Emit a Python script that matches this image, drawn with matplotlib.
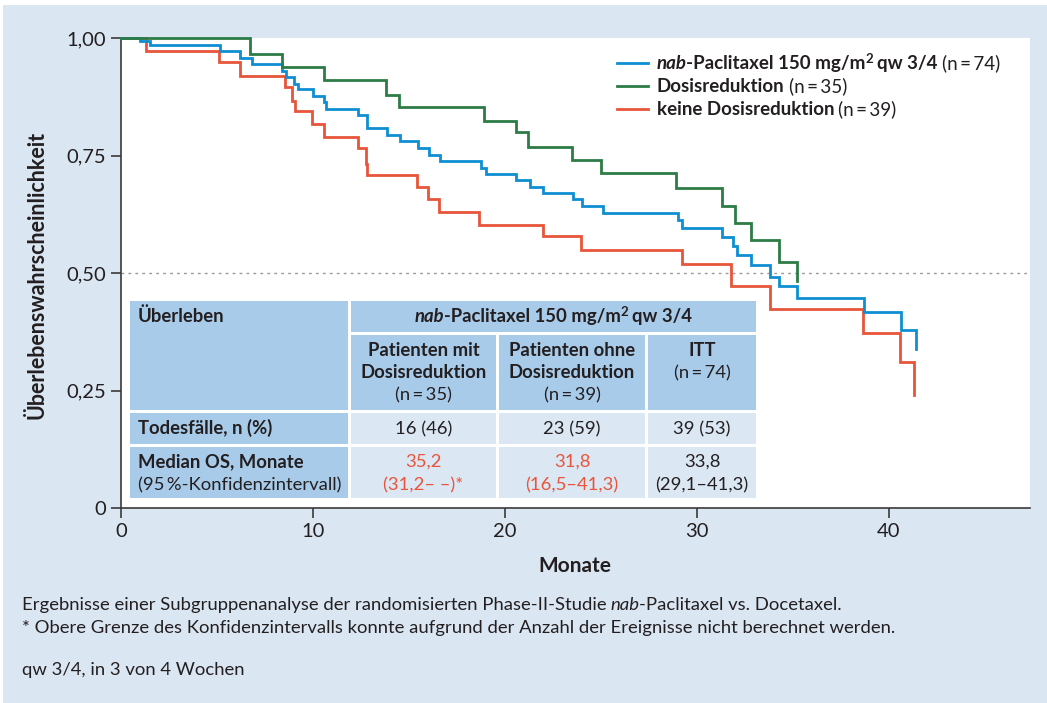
"""Kaplan-Meier OS: nab-Paclitaxel subgroups by dose reduction, with summary table."""

import matplotlib

matplotlib.use("Agg")
import matplotlib.pyplot as plt
from matplotlib.patches import Rectangle
from matplotlib.transforms import IdentityTransform


W, H, DPI = 1047, 703, 100

BG = "#dbe6f3"
HEAD = "#a9cbea"
CELL = "#dce7f4"
TEXT = "#231f20"
BLUE = "#0e8fd3"
GREEN = "#2d7b45"
RED = "#e8553a"

FONT = ["Lato", "DejaVu Sans"]
THIN = "\u2009"

# Kaplan-Meier steps (months, survival)
itt_t = [0, 1.0, 1.5, 5.15, 6.2, 6.8, 8.4, 8.6, 9.0, 9.2, 10.0, 10.6, 10.7,
         12.35, 12.8, 13.85, 14.55, 15.45, 16.05, 16.6, 18.75, 19.0, 20.6,
         21.3, 22.0, 23.55, 24.0, 25.1, 29.0, 29.2, 31.3, 31.9, 32.1, 32.8,
         33.8, 34.3, 35.2, 38.7, 40.65, 41.4]
itt_s = [1.0, 0.993, 0.986, 0.972, 0.958, 0.945, 0.930, 0.916, 0.902, 0.891,
         0.876, 0.864, 0.849, 0.836, 0.808, 0.794, 0.780, 0.766, 0.752, 0.738,
         0.724, 0.711, 0.698, 0.684, 0.671, 0.657, 0.642, 0.628, 0.613, 0.596,
         0.577, 0.558, 0.538, 0.517, 0.492, 0.472, 0.446, 0.416, 0.378, 0.338]

dr_t = [0, 6.7, 8.4, 10.6, 13.8, 14.5, 18.9, 20.6, 21.2, 23.5, 25.0, 28.9,
        31.3, 32.0, 32.8, 34.3, 35.2]
dr_s = [1.0, 0.967, 0.939, 0.911, 0.879, 0.854, 0.824, 0.799, 0.768, 0.741,
        0.712, 0.680, 0.643, 0.606, 0.570, 0.524, 0.483]

nodr_t = [0, 1.3, 5.1, 6.2, 8.55, 8.9, 9.05, 9.95, 10.6, 12.35, 12.75, 12.8,
          15.4, 16.0, 16.55, 18.65, 22.0, 23.95, 29.2, 31.8, 33.8, 38.65,
          40.6, 41.3]
nodr_s = [1.0, 0.972, 0.948, 0.919, 0.896, 0.866, 0.844, 0.817, 0.790, 0.766,
          0.732, 0.709, 0.684, 0.658, 0.630, 0.603, 0.578, 0.550, 0.519, 0.472,
          0.424, 0.372, 0.310, 0.241]

x_ticks = [0, 10, 20, 30, 40]
y_ticks = [0, 0.25, 0.5, 0.75, 1.0]
y_tick_labels = ["0", "0,25", "0,50", "0,75", "1,00"]

# table contents
group_names = [("Patienten mit", "Dosisreduktion"),
               ("Patienten ohne", "Dosisreduktion"),
               ("ITT",)]
group_n = [f"(n{THIN}={THIN}35)", f"(n{THIN}={THIN}39)", f"(n{THIN}={THIN}74)"]
deaths = ["16 (46)", "23 (59)", "39 (53)"]
median_os = ["35,2", "31,8", "33,8"]
median_ci = ["(31,2– –)*", "(16,5–41,3)", "(29,1–41,3)"]
median_colors = [RED, RED, TEXT]

captions = [
    [("Ergebnisse einer Subgruppenanalyse der randomisierten Phase-II-Studie", {}),
     ("nab", {"style": "italic", "gap": 4}),
     ("-Paclitaxel vs. Docetaxel.", {"gap": -1})],
    [("* Obere Grenze des Konfidenzintervalls konnte aufgrund der Anzahl der "
      "Ereignisse nicht berechnet werden.", {})],
    [("qw 3/4, in 3 von 4 Wochen", {})],
]


def fy(y):
    """Pixel row measured from the top -> pixel y from the bottom."""
    return H - y


def rich_text(fig, x, y, parts, ha="left", size=13.3, color=TEXT):
    """Place text pieces with mixed styles one after another on one baseline."""
    renderer = fig.canvas.get_renderer()
    placed = []
    cursor = 0.0
    for s, style in parts:
        style = dict(style)
        cursor += style.pop("gap", 0.0)
        rise = style.pop("rise", 0.0)
        t = fig.text(0, 0, s, transform=IdentityTransform(),
                     fontsize=style.pop("size", size),
                     color=style.pop("color", color),
                     family=FONT, va="baseline", ha="left", **style)
        w = t.get_window_extent(renderer).width
        placed.append((t, cursor, rise))
        cursor += w
    x0 = x - cursor / 2 if ha == "center" else x
    for t, off, rise in placed:
        t.set_position((x0 + off, fy(y) + rise))


def cell(fig, x0, y0, x1, y1, color, z=3):
    fig.patches.append(Rectangle((x0, fy(y1)), x1 - x0, y1 - y0,
                                 transform=IdentityTransform(),
                                 facecolor=color, edgecolor="none", zorder=z))


def main() -> None:
    fig = plt.figure(figsize=(W / DPI, H / DPI), dpi=DPI)
    fig.patch.set_facecolor("white")
    cell(fig, 3, 5, W + 2, H + 2, BG, z=-10)

    ax = fig.add_axes([121 / W, fy(508) / H, (1030 - 121) / W, (508 - 38) / H])
    ax.set_facecolor("white")
    for side in ("top", "right"):
        ax.spines[side].set_visible(False)
    for side in ("left", "bottom"):
        ax.spines[side].set_color("#3a3a3a")
        ax.spines[side].set_linewidth(1.2)

    ax.axhline(0.5, color="#9a9a9a", linestyle=(0, (2, 3)), linewidth=1.0)

    for t, s, c in [(nodr_t, nodr_s, RED), (itt_t, itt_s, BLUE), (dr_t, dr_s, GREEN)]:
        ax.step(t, s, where="post", color=c, linewidth=2.0, clip_on=False,
                solid_joinstyle="miter", zorder=4)

    ax.set_xlim(0, 47.35)
    ax.set_ylim(0, 1.0)
    ax.set_xticks(x_ticks)
    ax.set_yticks(y_ticks)
    ax.set_yticklabels(y_tick_labels)
    ax.tick_params(axis="both", direction="out", length=7, width=1.2,
                   color="#3a3a3a", labelsize=14.5, labelcolor=TEXT, pad=4)
    for lab in ax.get_xticklabels() + ax.get_yticklabels():
        lab.set_family(FONT)

    fig.text(575 / W, fy(566) / H, "Monate", ha="center", va="center",
             fontsize=15, fontweight="bold", family=FONT, color=TEXT)
    fig.text(37 / W, fy(275) / H, "Überlebenswahrscheinlichkeit", ha="center",
             va="center", rotation=90, fontsize=15.5, fontweight="bold",
             family=FONT, color=TEXT)

    # legend
    legend_rows = [
        (BLUE, [("nab", {"weight": "bold", "style": "italic"}),
                ("-Paclitaxel 150 mg/m", {"weight": "bold", "gap": -1}),
                ("2", {"weight": "bold", "size": 9.5, "rise": 6}),
                ("qw 3/4", {"weight": "bold", "gap": 4}),
                (group_n[2], {"gap": 4})]),
        (GREEN, [("Dosisreduktion", {"weight": "bold"}), (group_n[0], {"gap": 4})]),
        (RED, [("keine Dosisreduktion", {"weight": "bold"}), (group_n[1], {"gap": 4})]),
    ]
    for i, (c, parts) in enumerate(legend_rows):
        ly = 63 + 23 * i
        fig.add_artist(plt.Line2D([617, 648], [fy(ly), fy(ly)], color=c,
                                  linewidth=2.0, transform=IdentityTransform()))
        rich_text(fig, 657, ly + 6, parts, size=13.5)

    # table
    cols = [(130, 348), (351, 496), (499, 645), (648, 756)]
    cell(fig, 130, 301, 348, 410, HEAD)
    cell(fig, 351, 301, 756, 332, HEAD)
    for x0, x1 in cols[1:]:
        cell(fig, x0, 335, x1, 410, HEAD)
    cell(fig, 130, 413, 348, 444, HEAD)
    cell(fig, 130, 447, 348, 498, HEAD)
    for x0, x1 in cols[1:]:
        cell(fig, x0, 413, x1, 444, CELL)
        cell(fig, x0, 447, x1, 498, CELL)

    rich_text(fig, 138, 322, [("Überleben", {"weight": "bold"})])
    rich_text(fig, (351 + 756) / 2, 322,
              [("nab", {"weight": "bold", "style": "italic"}),
               ("-Paclitaxel 150 mg/m", {"weight": "bold", "gap": -1}),
               ("2", {"weight": "bold", "size": 9.5, "rise": 6}),
               ("qw 3/4", {"weight": "bold", "gap": 4})], ha="center")
    for (x0, x1), names, n in zip(cols[1:], group_names, group_n):
        cx = (x0 + x1) / 2
        for j, name in enumerate(names):
            rich_text(fig, cx, 356 + 22 * j, [(name, {"weight": "bold"})], ha="center")
        rich_text(fig, cx, 356 + 22 * len(names), [(n, {})], ha="center")

    rich_text(fig, 138, 434, [("Todesfälle, n (%)", {"weight": "bold"})])
    rich_text(fig, 138, 467, [("Median OS, Monate", {"weight": "bold"})])
    rich_text(fig, 138, 490, [(f"(95{THIN}%-Konfidenzintervall)", {})])
    for (x0, x1), d, m, ci, c in zip(cols[1:], deaths, median_os, median_ci, median_colors):
        cx = (x0 + x1) / 2
        rich_text(fig, cx, 434, [(d, {})], ha="center")
        rich_text(fig, cx, 467, [(m, {})], ha="center", color=c)
        rich_text(fig, cx, 490, [(ci, {})], ha="center", color=c)

    # footnotes
    for parts, ly in zip(captions, [610, 633, 675]):
        rich_text(fig, 22, ly, parts, size=13.3)

    fig.savefig("out.png", dpi=DPI, facecolor="white")
    plt.close(fig)


if __name__ == "__main__":
    main()
